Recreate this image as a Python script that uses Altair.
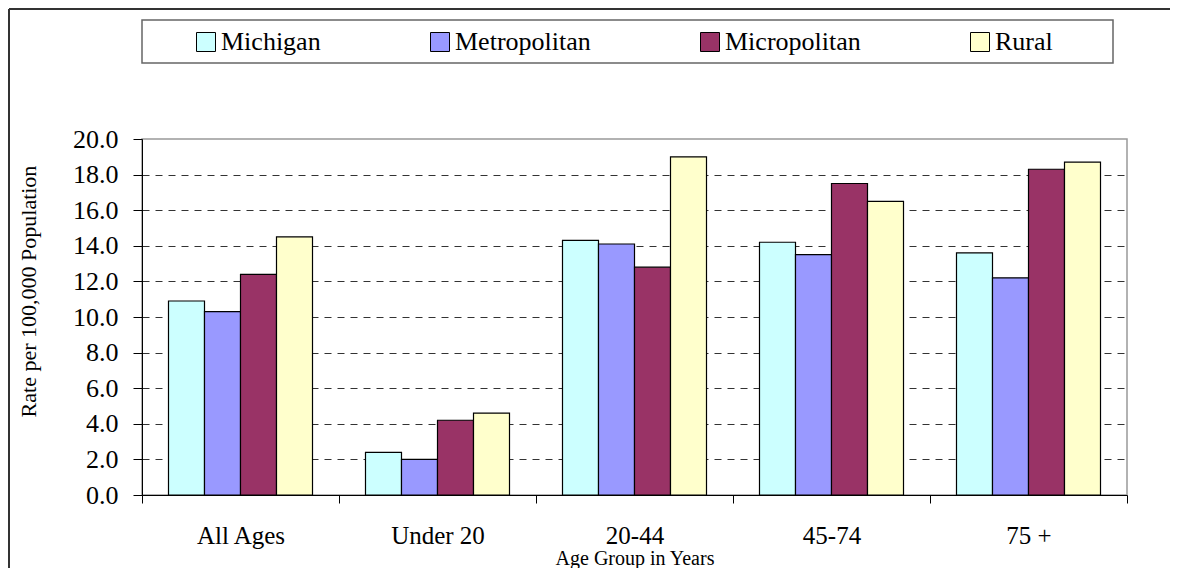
import altair as alt
import pandas as pd

groups = ["All Ages", "Under 20", "20-44", "45-74", "75 +"]
series = ["Michigan", "Metropolitan", "Micropolitan", "Rural"]
michigan = [10.9, 2.4, 14.3, 14.2, 13.6]
metropolitan = [10.3, 2.0, 14.1, 13.5, 12.2]
micropolitan = [12.4, 4.2, 12.8, 17.5, 18.3]
rural = [14.5, 4.6, 19.0, 16.5, 18.7]
colors = ["#CCFFFF", "#9999FF", "#993366", "#FFFFCC"]
y_ticks = [0, 2, 4, 6, 8, 10, 12, 14, 16, 18, 20]

rows = []
for s, vals in zip(series, [michigan, metropolitan, micropolitan, rural]):
    for g, v in zip(groups, vals):
        rows.append({"group": g, "series": s, "rate": v})
df = pd.DataFrame(rows)

FONT = "Liberation Serif"
W, H = 985, 356

bars = alt.Chart(df).mark_bar(stroke="black", strokeWidth=1.2).encode(
    x=alt.X(
        "group:N", sort=groups,
        scale=alt.Scale(paddingInner=0, paddingOuter=0),
        axis=alt.Axis(
            title="Age Group in Years", labelAngle=0, tickBand="extent",
            ticks=True, tickSize=8, tickColor="black", domainColor="black",
            labelFontSize=25, labelPadding=20, labelFont=FONT, labelColor="black",
            titleFontSize=20, titleFontWeight="normal", titleFont=FONT,
            titleColor="black", titleY=53, titleBaseline="top", grid=False,
        ),
    ),
    xOffset=alt.XOffset(
        "series:N", sort=series,
        scale=alt.Scale(paddingInner=0, paddingOuter=0.736),
    ),
    y=alt.Y(
        "rate:Q",
        scale=alt.Scale(domain=[0, 20], nice=False),
        axis=alt.Axis(
            values=y_ticks, format=".1f", title="Rate per 100,000 Population",
            tickSize=9, tickColor="black", domainColor="black",
            labelFontSize=26, labelPadding=15, labelFont=FONT, labelColor="black",
            titleFontSize=22, titleFontWeight="normal", titleFont=FONT,
            titleColor="black", titleX=-114, titleY=152, titleBaseline="middle",
            grid=True, gridDash=[7, 6], gridColor="#333333", gridWidth=1,
            gridOpacity={"condition": {"test": "datum.value >= 20 || datum.value <= 0", "value": 0}, "value": 1},
        ),
    ),
    color=alt.Color(
        "series:N", sort=series,
        scale=alt.Scale(domain=series, range=colors),
        legend=alt.Legend(
            title=None, orient="none", legendX=51, legendY=-110,
            direction="horizontal", columns=4, columnPadding=106,
            symbolType="square", symbolSize=361, symbolStrokeColor="black",
            symbolStrokeWidth=1, labelFontSize=26, labelFont=FONT,
            labelColor="black", labelOffset=2, labelLimit=300, padding=0,
        ),
    ),
)

one = alt.Data(values=[{"k": 1}])
frame_left = alt.Chart(one).mark_rule(color="#333333", strokeWidth=2).encode(
    x=alt.value(-133), y=alt.value(-130), y2=alt.value(1000)
)
frame_top = alt.Chart(one).mark_rule(color="#333333", strokeWidth=2).encode(
    x=alt.value(-133), x2=alt.value(2000), y=alt.value(-130)
)
legend_box = alt.Chart(one).mark_rect(filled=False, stroke="#666666", strokeWidth=1.5).encode(
    x=alt.value(0), x2=alt.value(971), y=alt.value(-119), y2=alt.value(-76)
)

chart = alt.layer(frame_left, frame_top, legend_box, bars).properties(
    width=W, height=H,
    autosize=alt.AutoSizeParams(type="none"),
    padding={"left": 134, "top": 131, "right": 43, "bottom": 73},
    background="white",
).configure(font=FONT).configure_view(stroke="#999999", strokeWidth=1.5).configure_legend(labelFont=FONT)

chart.save("out.html", embed_options={"renderer": "svg", "actions": False})
